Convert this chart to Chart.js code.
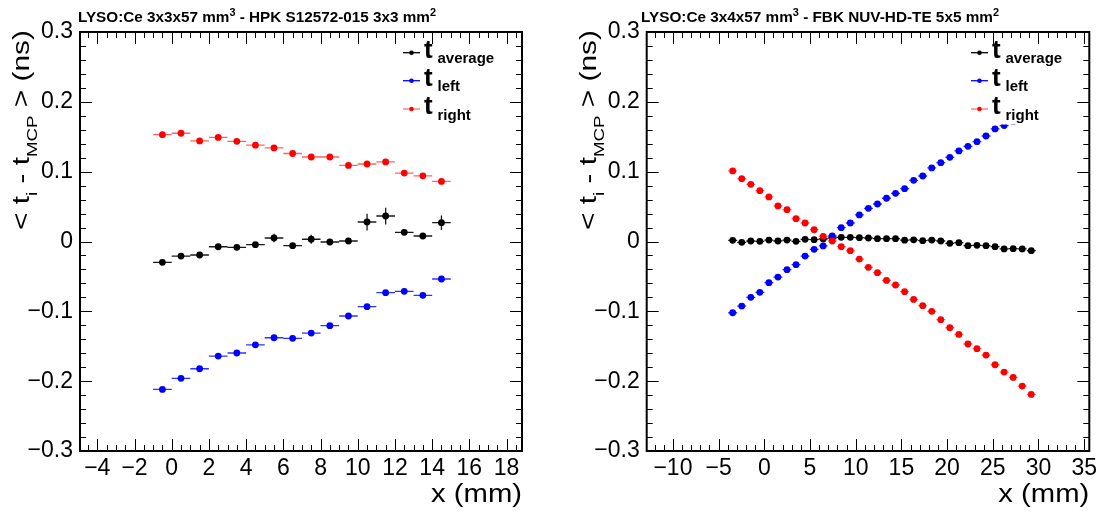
<!DOCTYPE html>
<html>
<head>
<meta charset="utf-8">
<script src="https://cdn.jsdelivr.net/npm/chart.js@4.4.1/dist/chart.umd.min.js"></script>
<style>
  html, body { margin: 0; padding: 0; background: #fff; }
  #wrap { position: relative; width: 1105px; height: 514px; overflow: hidden; }
  canvas { position: absolute; top: 0; }
  #hpk { left: 0; }
  #fbk { left: 552px; }
</style>
</head>
<body>
<div id="wrap">
  <canvas id="hpk" width="552" height="514"></canvas>
  <canvas id="fbk" width="553" height="514"></canvas>
</div>
<script>
// --- DATA: left pad (HPK S12572-015, 3x3x57 crystal) ---
const hpkX = [-0.5, 0.5, 1.5, 2.5, 3.5, 4.5, 5.5, 6.5, 7.5, 8.5, 9.5, 10.5, 11.5, 12.5, 13.5, 14.5];
const hpkAvg = [-0.0298, -0.0208, -0.0193, -0.0075, -0.0083, -0.0046, 0.005, -0.006, 0.0032, -0.0007, 0.0007, 0.0279, 0.0365, 0.0132, 0.0079, 0.0269];
const hpkAvgErr = [0.003, 0.003, 0.003, 0.003, 0.003, 0.003, 0.006, 0.003, 0.0065, 0.003, 0.003, 0.012, 0.012, 0.004, 0.004, 0.0105];
const hpkLeft = [-0.2118, -0.196, -0.1822, -0.164, -0.1597, -0.1479, -0.1378, -0.1387, -0.1311, -0.1206, -0.1067, -0.0934, -0.0733, -0.0713, -0.0771, -0.0537];
const hpkRight = [0.153, 0.155, 0.144, 0.149, 0.1435, 0.138, 0.134, 0.126, 0.121, 0.121, 0.109, 0.111, 0.114, 0.098, 0.094, 0.086];
const hpkSmallErr = [0.002, 0.002, 0.002, 0.002, 0.002, 0.002, 0.002, 0.002, 0.002, 0.002, 0.002, 0.002, 0.002, 0.002, 0.002, 0.002];

// --- DATA: right pad (FBK NUV-HD-TE, 3x4x57 crystal) ---
const fbkX = [-3.46, -2.47, -1.48, -0.49, 0.50, 1.49, 2.48, 3.47, 4.46, 5.45, 6.44, 7.43, 8.42, 9.41, 10.40, 11.39, 12.38,
  13.37, 14.36, 15.35, 16.34, 17.33, 18.32, 19.31, 20.30, 21.29, 22.28, 23.27, 24.26, 25.25, 26.24, 27.23, 28.22, 29.21];
const fbkAvg = [0.0017, -0.0012, 0.0007, 0.0002, 0.0021, 0.0007, 0.0021, 0.0002, 0.0031, 0.0026, 0.0036, 0.0050, 0.0060, 0.0060, 0.0055, 0.0050, 0.0041,
  0.0041, 0.0041, 0.0019, 0.0024, 0.0012, 0.0021, 0.0007, -0.0026, -0.0017, -0.0060, -0.0055, -0.0060, -0.0074, -0.0107, -0.0103, -0.0107, -0.0131];
const fbkLeft = [-0.102, -0.0924, -0.080, -0.0728, -0.059, -0.0509, -0.0404, -0.0332, -0.0208, -0.0112, -0.0064, 0.0079, 0.0198, 0.0265, 0.038, 0.0475, 0.0537,
  0.0619, 0.069, 0.0757, 0.0876, 0.0938, 0.1053, 0.1129, 0.1206, 0.1297, 0.1363, 0.143, 0.1511, 0.1612, 0.166, 0.172, 0.178, 0.184];
const fbkRight = [0.101, 0.090, 0.0819, 0.0728, 0.0638, 0.0509, 0.0456, 0.0327, 0.0265, 0.0169, 0.0074, 0.0007, -0.0074, -0.0131, -0.0251, -0.037, -0.0447,
  -0.0557, -0.0623, -0.0719, -0.0829, -0.0919, -0.100, -0.112, -0.1235, -0.133, -0.1468, -0.1535, -0.1626, -0.1765, -0.187, -0.1946, -0.207, -0.219];

// --- TICKS / LABELS ---
const yTicks = [-0.3, -0.2, -0.1, 0, 0.1, 0.2, 0.3];
const hpkXTicks = [-4, -2, 0, 2, 4, 6, 8, 10, 12, 14, 16, 18];
const fbkXTicks = [-10, -5, 0, 5, 10, 15, 20, 25, 30, 35];
const seriesSubs = ['average', 'left', 'right'];
const hpkTitle = ['LYSO:Ce 3x3x57 mm', '3', ' - HPK S12572-015 3x3 mm', '2'];
const fbkTitle = ['LYSO:Ce 3x4x57 mm', '3', ' - FBK NUV-HD-TE 5x5 mm', '2'];

const FONT = '"Liberation Sans", Arial, Helvetica, sans-serif';
const COLORS = { avg: '#000000', left: '#0000ff', right: '#ff0000' };
const BAR_COLORS = { avg: '#1a1a1a', left: '#3030ff', right: '#ff6060' };

// layout of each pad (canvas pixel coords)
const padCfg = {
  hpk: {
    yAxisW: 80, padRight: 30, xMinorStep: 0.5, xTicks: hpkXTicks,
    title: hpkTitle, titleX: 78, titleW: 358,
    yTitleX: 29, legendX: 403, legendBox: null
  },
  fbk: {
    yAxisW: 94.7, padRight: 15.7, xMinorStep: 1, xTicks: fbkXTicks,
    title: fbkTitle, titleX: 89, titleW: 358,
    yTitleX: 43.5, legendX: 419, legendBox: [406, 36, 534, 124.5]
  }
};
const legendRows = [52.7, 80.7, 109];

function fmtTick(v, digits) {
  if (Math.abs(v) < 1e-9) return '0';
  const s = Math.abs(v).toFixed(digits);
  return v < 0 ? '\u2212' + s : s;
}

// draw a run of text pieces (with sub/superscripts), stretched to a given length
function drawRich(ctx, pieces, x, y, fitW, rotated) {
  ctx.save();
  let w = 0;
  pieces.forEach(p => { ctx.font = p.font; w += ctx.measureText(p.t).width; });
  ctx.translate(x, y);
  if (rotated) ctx.rotate(-Math.PI / 2);
  ctx.scale(fitW / w, 1);
  ctx.fillStyle = '#000';
  ctx.textAlign = 'left';
  ctx.textBaseline = 'alphabetic';
  let u = 0;
  pieces.forEach(p => {
    ctx.font = p.font;
    ctx.fillText(p.t, u, p.dy || 0);
    u += ctx.measureText(p.t).width;
  });
  ctx.restore();
}

function drawTicks(ctx, a, scale, horizontal, majors, step) {
  const isMajor = v => majors.some(m => Math.abs(m - v) < step * 1e-3);
  const k0 = Math.ceil(scale.min / step - 1e-9);
  ctx.beginPath();
  for (let k = k0; k * step <= scale.max + 1e-9; k++) {
    const v = k * step;
    const len = isMajor(v) ? 12 : 6;
    const p = Math.round(scale.getPixelForValue(v)) + 0.5;
    if (horizontal) {
      ctx.moveTo(p, a.bottom); ctx.lineTo(p, a.bottom - len);
      ctx.moveTo(p, a.top); ctx.lineTo(p, a.top + len);
    } else {
      ctx.moveTo(a.left, p); ctx.lineTo(a.left + len, p);
      ctx.moveTo(a.right, p); ctx.lineTo(a.right - len, p);
    }
  }
  ctx.stroke();
}

const rootPad = {
  id: 'rootPad',
  beforeDatasetsDraw(chart) {
    // error bars under the markers
    const ctx = chart.ctx, a = chart.chartArea;
    const xs = chart.scales.x, ys = chart.scales.y;
    ctx.save();
    ctx.beginPath();
    ctx.rect(a.left, a.top, a.right - a.left, a.bottom - a.top);
    ctx.clip();
    ctx.lineWidth = 1.3;
    chart.data.datasets.forEach(ds => {
      ctx.strokeStyle = ds.barColor;
      ctx.beginPath();
      ds.data.forEach((p, i) => {
        const px = xs.getPixelForValue(p.x), py = ys.getPixelForValue(p.y);
        ctx.moveTo(xs.getPixelForValue(p.x - ds.xErr), py);
        ctx.lineTo(xs.getPixelForValue(p.x + ds.xErr), py);
        const e = ds.yErr ? ds.yErr[i] : 0;
        if (e) {
          ctx.moveTo(px, ys.getPixelForValue(p.y - e));
          ctx.lineTo(px, ys.getPixelForValue(p.y + e));
        }
      });
      ctx.stroke();
    });
    ctx.restore();
  },
  afterDraw(chart) {
    const cfg = padCfg[chart.canvas.id];
    const ctx = chart.ctx, a = chart.chartArea;
    ctx.save();

    // legend (white box hides what is under it)
    if (cfg.legendBox) {
      const b = cfg.legendBox;
      ctx.fillStyle = '#fff';
      ctx.fillRect(b[0], b[1], b[2] - b[0], b[3] - b[1]);
    }
    const keys = ['avg', 'left', 'right'];
    keys.forEach((key, i) => {
      const lx = cfg.legendX, ly = legendRows[i];
      ctx.strokeStyle = key === 'right' ? '#ff7070' : COLORS[key];
      ctx.lineWidth = 1.3;
      ctx.beginPath(); ctx.moveTo(lx, ly); ctx.lineTo(lx + 17, ly); ctx.stroke();
      ctx.fillStyle = COLORS[key];
      ctx.beginPath(); ctx.arc(lx + 8.5, ly, 2.3, 0, Math.PI * 2); ctx.fill();
      ctx.fillStyle = '#000';
      ctx.textAlign = 'left'; ctx.textBaseline = 'alphabetic';
      ctx.font = 'bold 26px ' + FONT;
      ctx.fillText('t', lx + 21, ly + 5);
      ctx.font = 'bold 15px ' + FONT;
      ctx.fillText(seriesSubs[i], lx + 34.5, ly + 10.5);
    });

    // frame and inner ticks
    ctx.strokeStyle = '#000';
    ctx.lineWidth = 1;
    drawTicks(ctx, a, chart.scales.x, true, cfg.xTicks, cfg.xMinorStep);
    drawTicks(ctx, a, chart.scales.y, false, yTicks, 0.02);
    ctx.lineWidth = 2;
    ctx.strokeRect(a.left, a.top, a.right - a.left, a.bottom - a.top);
    ctx.restore();

    // pad title
    const tb = 'bold 14px ' + FONT, ts = 'bold 10px ' + FONT;
    drawRich(ctx, [
      { t: cfg.title[0], font: tb }, { t: cfg.title[1], font: ts, dy: -5.5 },
      { t: cfg.title[2], font: tb }, { t: cfg.title[3], font: ts, dy: -5.5 }
    ], cfg.titleX, 21.5, cfg.titleW, false);

    // axis titles
    drawRich(ctx, [{ t: 'x (mm)', font: '26px ' + FONT }], a.right - 91, 501.5, 91, false);
    const fm = '24px ' + FONT, fs = '15px ' + FONT;
    drawRich(ctx, [
      { t: '< t', font: fm }, { t: 'i', font: fs, dy: 8 },
      { t: ' - t', font: fm }, { t: 'MCP', font: fs, dy: 8 },
      { t: ' > (ns)', font: fm }
    ], cfg.yTitleX, 230, 200, true);
  }
};

function series(xs, ys, key, xErr, yErr, order) {
  return {
    data: xs.map((x, i) => ({ x: x, y: ys[i] })),
    backgroundColor: COLORS[key],
    borderColor: COLORS[key],
    pointRadius: 3.4,
    pointBorderWidth: 0,
    pointHoverRadius: 3.4,
    showLine: false,
    order: order,
    barColor: BAR_COLORS[key],
    xErr: xErr,
    yErr: yErr
  };
}

function makePad(id, datasets, xMin, xMax) {
  const cfg = padCfg[id];
  const tickFont = { family: FONT, size: 23 };
  return new Chart(document.getElementById(id), {
    type: 'scatter',
    data: { datasets: datasets },
    options: {
      responsive: false,
      animation: false,
      devicePixelRatio: 1,
      events: [],
      layout: { padding: { left: 0, top: 32, right: cfg.padRight, bottom: 33 } },
      plugins: { legend: { display: false }, tooltip: { enabled: false } },
      scales: {
        x: {
          type: 'linear', min: xMin, max: xMax,
          afterBuildTicks: s => { s.ticks = cfg.xTicks.map(v => ({ value: v })); },
          afterFit: s => { s.height = 30; },
          grid: { display: false, drawTicks: false },
          border: { display: false },
          ticks: {
            font: tickFont, color: '#000', padding: 4, autoSkip: false, maxRotation: 0,
            callback: v => fmtTick(v, 0)
          }
        },
        y: {
          type: 'linear', min: -0.3, max: 0.3,
          afterBuildTicks: s => { s.ticks = yTicks.map(v => ({ value: v })); },
          afterFit: s => { s.width = cfg.yAxisW; },
          grid: { display: false, drawTicks: false },
          border: { display: false },
          ticks: {
            font: tickFont, color: '#000', padding: 7, autoSkip: false,
            callback: v => fmtTick(v, 1)
          }
        }
      }
    },
    plugins: [rootPad]
  });
}

makePad('hpk', [
  series(hpkX, hpkAvg, 'avg', 0.5, hpkAvgErr, 3),
  series(hpkX, hpkLeft, 'left', 0.5, hpkSmallErr, 2),
  series(hpkX, hpkRight, 'right', 0.5, hpkSmallErr, 1)
], -4.93, 18.83);

makePad('fbk', [
  series(fbkX, fbkAvg, 'avg', 0.49, null, 3),
  series(fbkX, fbkLeft, 'left', 0.49, null, 2),
  series(fbkX, fbkRight, 'right', 0.49, null, 1)
], -12.87, 35.56);
</script>
</body>
</html>
